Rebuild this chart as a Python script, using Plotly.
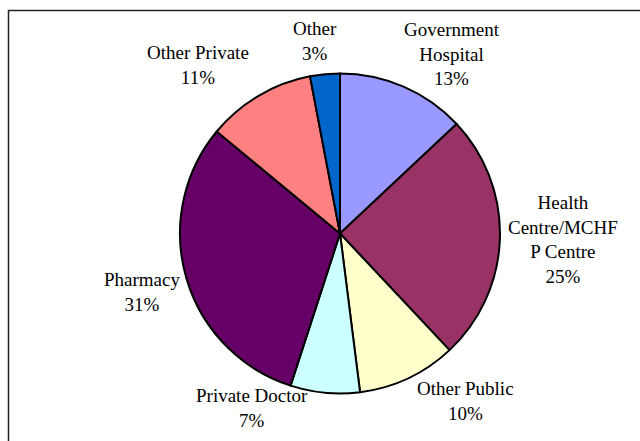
import plotly.graph_objects as go

categories = ["Government Hospital", "Health Centre/MCHFP Centre", "Other Public",
              "Private Doctor", "Pharmacy", "Other Private", "Other"]
values = [13, 25, 10, 7, 31, 11, 3]
label_text = ["Government<br>Hospital", "Health<br>Centre/MCHF<br>P Centre", "Other Public",
              "Private Doctor", "Pharmacy", "Other Private", "Other"]
colors = ["#9999FF", "#993366", "#FFFFCC", "#CCFFFF", "#660066", "#FF8080", "#0066CC"]

# label block centres in pixels (layout only)
label_pos = [(452, 54), (563, 239), (465, 401), (252, 408), (142, 292), (198, 65), (315, 41)]

W, H = 640, 441
cx, cy, R = 340, 233.5, 160

fig = go.Figure(go.Pie(
    labels=categories, values=values, sort=False, direction="clockwise", rotation=0,
    marker=dict(colors=colors, line=dict(color="black", width=2)),
    textinfo="none", hoverinfo="label+percent", showlegend=False,
    domain=dict(x=[(cx - R) / W, (cx + R) / W], y=[1 - (cy + R) / H, 1 - (cy - R) / H]),
))

total = sum(values)
annotations = []
for txt, v, (px, py) in zip(label_text, values, label_pos):
    annotations.append(dict(
        x=px / W, y=1 - py / H, xref="paper", yref="paper",
        text=f"{txt}<br>{round(100 * v / total)}%", showarrow=False,
        xanchor="center", yanchor="middle", align="center",
        font=dict(family="Liberation Serif", size=19, color="black"),
    ))

fig.update_layout(
    width=W, height=H, margin=dict(l=0, r=0, t=0, b=0),
    paper_bgcolor="white", plot_bgcolor="white",
    annotations=annotations,
    shapes=[dict(type="rect", xref="paper", yref="paper",
                 x0=8.5 / W, x1=1.02, y0=-0.02, y1=1 - 10.5 / H,
                 line=dict(color="#222222", width=1.5))],
)

fig.write_html("out.html")
